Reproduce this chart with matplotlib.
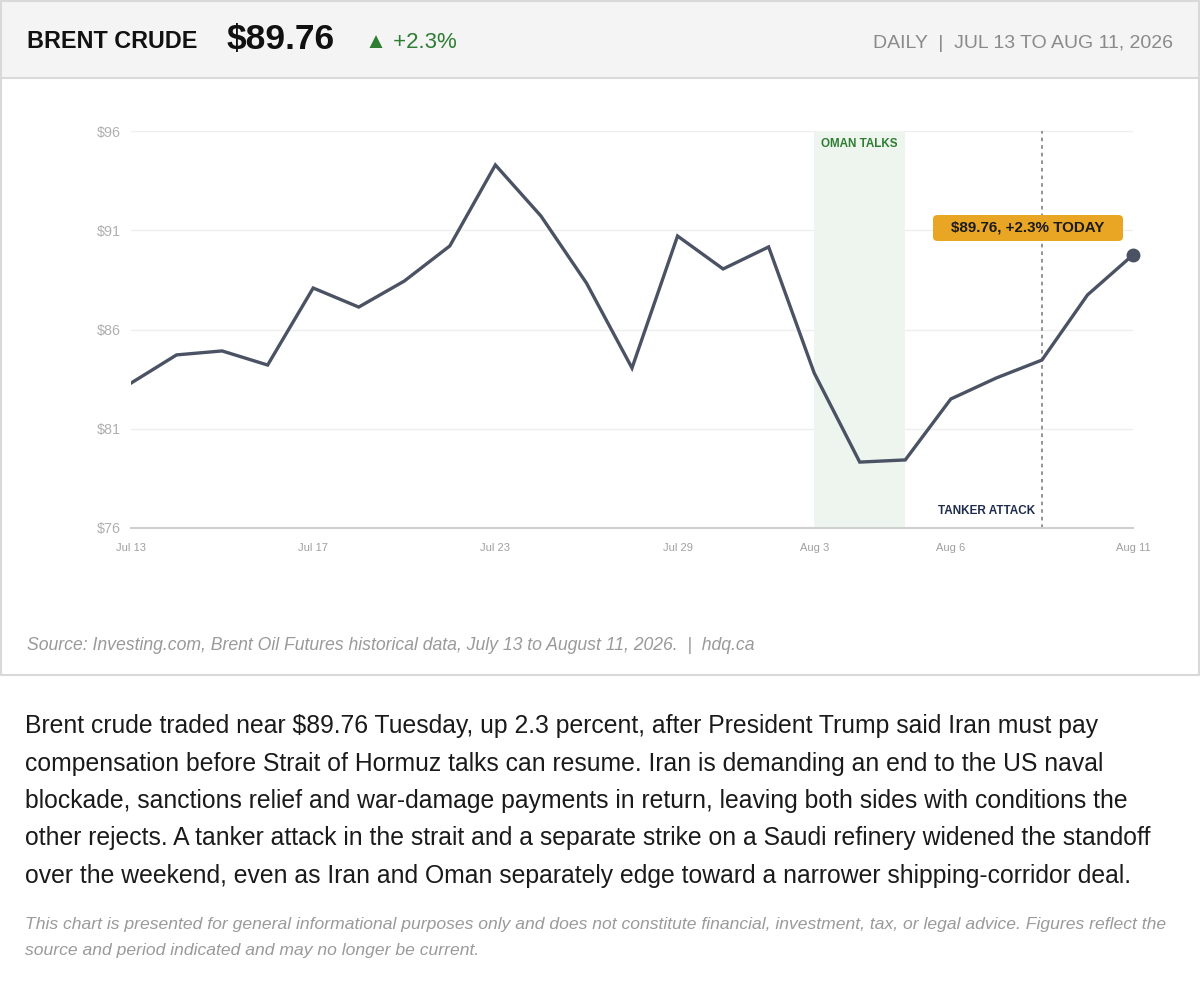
import numpy as np
import matplotlib.pyplot as plt
from matplotlib.patches import Rectangle, FancyBboxPatch

plt.rcParams['font.family'] = ['Liberation Sans', 'DejaVu Sans']

# trading days shown (Aug 9 is the weekend tanker-attack marker)
dates = ["Jul 13", "Jul 14", "Jul 15", "Jul 16", "Jul 17", "Jul 20", "Jul 21", "Jul 22",
         "Jul 23", "Jul 24", "Jul 27", "Jul 28", "Jul 29", "Jul 30", "Jul 31", "Aug 3",
         "Aug 4", "Aug 5", "Aug 6", "Aug 7", "Aug 9", "Aug 10", "Aug 11"]
prices = [83.30, 84.72, 84.92, 84.21, 88.09, 87.13, 88.44, 90.21, 94.29, 91.72, 88.34,
          84.06, 90.71, 89.05, 90.16, 83.81, 79.32, 79.43, 82.50, 83.56, 84.46, 87.74, 89.76]
tick_dates = ["Jul 13", "Jul 17", "Jul 23", "Jul 29", "Aug 3", "Aug 6", "Aug 11"]
y_ticks = [76, 81, 86, 91, 96]
talks_start, talks_end = "Aug 3", "Aug 5"
attack_date = "Aug 9"

W, H = 1200, 1001
fig = plt.figure(figsize=(W / 100, H / 100), dpi=100)


def fx(x):
    return x / W


def fy(y):
    return 1 - y / H


# header band and chart panel
fig.patches.append(Rectangle((fx(1), fy(675)), fx(1198), (675 - 1) / H, transform=fig.transFigure,
                             facecolor='white', edgecolor='#d9d9d9', linewidth=1.5, zorder=0))
fig.patches.append(Rectangle((fx(1), fy(78)), fx(1198), 77 / H, transform=fig.transFigure,
                             facecolor='#f4f4f4', edgecolor='#d9d9d9', linewidth=1.5, zorder=0))

fig.text(fx(27), fy(42), "BRENT CRUDE", fontsize=16.8, fontweight='bold', color='#111111', va='center')
fig.text(fx(227), fy(39), "$89.76", fontsize=25.5, fontweight='bold', color='#111111', va='center')
fig.text(fx(365), fy(42), "\u25b2 +2.3%", fontsize=16, color='#2e7d32', va='center')
fig.text(fx(1173), fy(43), "DAILY  |  JUL 13 TO AUG 11, 2026", fontsize=14, color='#8a8a8a',
         va='center', ha='right')

# chart
ax = fig.add_axes([fx(131), fy(528), fx(1133 - 131), (528 - 131) / H], zorder=2)
ax.patch.set_visible(False)
x = np.arange(len(dates))
ax.set_xlim(0, len(dates) - 1)
ax.set_ylim(76, 96)

for s in ['top', 'right', 'left']:
    ax.spines[s].set_visible(False)
ax.spines['bottom'].set_color('#d0d0d0')
ax.spines['bottom'].set_linewidth(1.5)
for v in y_ticks[1:]:
    ax.axhline(v, color='#eeeeee', linewidth=1, zorder=0)

ax.set_yticks(y_ticks)
ax.set_yticklabels(["$%d" % v for v in y_ticks])
ax.set_xticks([dates.index(d) for d in tick_dates])
ax.set_xticklabels(tick_dates)
ax.tick_params(length=0, labelcolor='#a0a0a0')
ax.tick_params(axis='y', pad=7, labelsize=10.4, labelcolor='#b0b0b0')
ax.tick_params(axis='x', pad=11, labelsize=8)

i0, i1 = dates.index(talks_start), dates.index(talks_end)
ax.axvspan(i0, i1, color='#eef5ef', zorder=0, linewidth=0)
ax.text(i0 + (i1 - i0) / 2, 95.35, "OMAN TALKS", fontsize=8.4, fontweight='bold', color='#2e7d32',
        ha='center', va='center')

ia = dates.index(attack_date)
ax.axvline(ia, color='#8a8a8a', linewidth=1.3, linestyle=(0, (2, 2.2)), zorder=1)
ax.text(ia - 0.15, 76.85, "TANKER ATTACK", fontsize=8.5, fontweight='bold', color='#1f2d4d',
        ha='right', va='center')

ax.plot(x, prices, color='#4a5263', linewidth=2.4, zorder=3, solid_joinstyle='miter')
ax.plot(x[-1], prices[-1], 'o', color='#4a5263', markersize=9, zorder=4, clip_on=False)

# callout
bw, bh = 190 / W, 26 / H
bx, by = fx(933), fy(241)
fig.patches.append(FancyBboxPatch((bx, by), bw, bh, transform=fig.transFigure,
                                  boxstyle="round,pad=0,rounding_size=0.004",
                                  facecolor='#e8a624', edgecolor='none', zorder=5))
fig.text(bx + bw / 2, by + bh / 2, "$89.76, +2.3% TODAY", fontsize=10.9, fontweight='bold',
         color='#1a1a1a', ha='center', va='center', zorder=6)

fig.text(fx(27), fy(645), "Source: Investing.com, Brent Oil Futures historical data, July 13 to August 11, 2026.  |  hdq.ca",
         fontsize=12.7, style='italic', color='#9a9a9a', va='center')

body = [
    "Brent crude traded near $89.76 Tuesday, up 2.3 percent, after President Trump said Iran must pay",
    "compensation before Strait of Hormuz talks can resume. Iran is demanding an end to the US naval",
    "blockade, sanctions relief and war-damage payments in return, leaving both sides with conditions the",
    "other rejects. A tanker attack in the strait and a separate strike on a Saudi refinery widened the standoff",
    "over the weekend, even as Iran and Oman separately edge toward a narrower shipping-corridor deal.",
]
for k, line in enumerate(body):
    fig.text(fx(25), fy(726 + k * 37.5), line, fontsize=17.8, color='#1a1a1a', va='center')

disclaimer = [
    "This chart is presented for general informational purposes only and does not constitute financial, investment, tax, or legal advice. Figures reflect the",
    "source and period indicated and may no longer be current.",
]
for k, line in enumerate(disclaimer):
    fig.text(fx(25), fy(925 + k * 25), line, fontsize=12.6, style='italic', color='#9a9a9a', va='center')

fig.savefig('out.png', dpi=100)
